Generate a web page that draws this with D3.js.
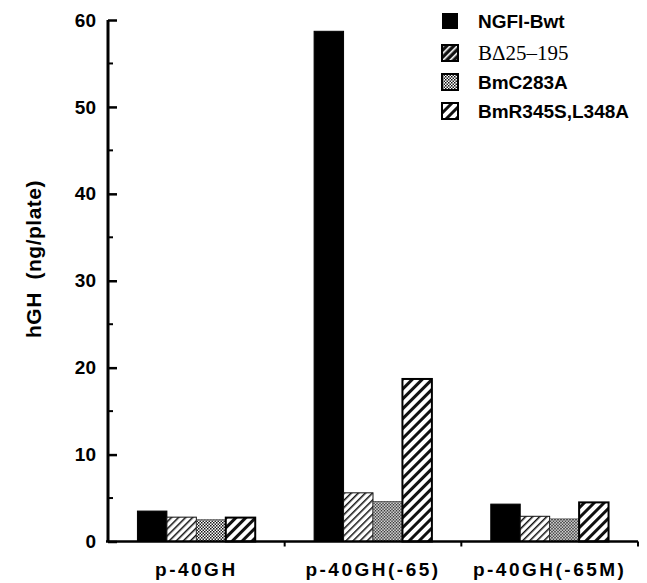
<!DOCTYPE html>
<html>
<head>
<meta charset="utf-8">
<script src="https://cdn.jsdelivr.net/npm/d3@7"></script>
<style>
  body { margin: 0; background: #fff; }
  text { font-family: "Liberation Sans", Arial, Helvetica, sans-serif; }
</style>
</head>
<body>
<div id="chart"></div>
<script>
// data
var categories = ["p-40GH", "p-40GH(-65)", "p-40GH(-65M)"]
var seriesNames = ["NGFI-Bwt", "B\u039425\u2013195", "BmC283A", "BmR345S,L348A"]
var wtValues = [3.5, 58.7, 4.3]
var delValues = [2.8, 5.6, 2.9]
var c283Values = [2.5, 4.6, 2.6]
var r345Values = [2.75, 18.7, 4.5]
var yTicks = [0, 10, 20, 30, 40, 50, 60]
var yMinorTicks = [5, 15, 25, 35, 45, 55]

var seriesValues = [wtValues, delValues, c283Values, r345Values]
var data = categories.map(function (c, i) {
    var row = { cat: c }
    seriesNames.forEach(function (s, j) { row[s] = seriesValues[j][i] })
    return row
})

var width = 647, height = 583
var svg = d3.select("#chart").append("svg")
    .attr("width", width)
    .attr("height", height)

// fill patterns
var defs = svg.append("defs")
function stripes(id, size, lineW, bg, fg) {
    var p = defs.append("pattern").attr("id", id)
        .attr("patternUnits", "userSpaceOnUse").attr("width", size).attr("height", size)
        .attr("patternTransform", "rotate(45)")
    p.append("rect").attr("width", size).attr("height", size).attr("fill", bg)
    p.append("rect").attr("width", lineW).attr("height", size).attr("fill", fg)
}
stripes("hatchFine", 5, 1.5, "#fff", "#111")
stripes("hatchFineInv", 5, 1.6, "#111", "#fff")
stripes("hatchBold", 7, 3, "#fff", "#111")

var p2 = defs.append("pattern").attr("id", "dots")
    .attr("patternUnits", "userSpaceOnUse").attr("width", 3).attr("height", 3)
p2.append("rect").attr("width", 3).attr("height", 3).attr("fill", "#fff")
p2.append("rect").attr("width", 1.5).attr("height", 1.5).attr("fill", "#111")
p2.append("rect").attr("x", 1.5).attr("y", 1.5).attr("width", 1.5).attr("height", 1.5).attr("fill", "#222")

var fills = ["#000", "url(#hatchFine)", "url(#dots)", "url(#hatchBold)"]
var legendFills = ["#000", "url(#hatchFineInv)", "url(#dots)", "url(#hatchBold)"]
var strokes = ["#000", "#111", "#222", "#000"]
var strokeW = [1, 1, 0.6, 2]

// scales
var x0 = d3.scaleBand()
    .domain(categories)
    .range([108, 638])
    .padding(0)
var x1 = d3.scaleBand()
    .domain(seriesNames)
    .range([0, x0.bandwidth()])
    .paddingInner(0)
    .paddingOuter(1)
var y = d3.scaleLinear()
    .domain([0, 60])
    .range([541.5, 20])
var color = d3.scaleOrdinal().domain(seriesNames).range(fills)

// bars
svg.append("g")
    .selectAll("g")
    .data(data)
    .enter().append("g")
    .attr("transform", function (d) { return "translate(" + x0(d.cat) + ",0)" })
    .selectAll("rect")
    .data(function (d) { return seriesNames.map(function (k) { return { key: k, value: d[k] } }) })
    .enter().append("rect")
    .attr("x", function (d) { return x1(d.key) })
    .attr("y", function (d) { return y(d.value) })
    .attr("width", x1.bandwidth())
    .attr("height", function (d) { return y(0) - y(d.value) })
    .attr("fill", function (d) { return color(d.key) })
    .attr("stroke", function (d) { return strokes[seriesNames.indexOf(d.key)] })
    .attr("stroke-width", function (d) { return strokeW[seriesNames.indexOf(d.key)] })

// y axis
var yAxis = svg.append("g")
    .attr("transform", "translate(108,0)")
    .call(d3.axisRight(y).tickValues(yTicks).tickSize(9).tickFormat(d3.format("d")))
yAxis.select(".domain").attr("stroke-width", 3).attr("d", "M0," + y(0) + "V" + y(60))
yAxis.selectAll(".tick line").attr("stroke-width", 2.5)
yAxis.selectAll(".tick text")
    .attr("x", -12)
    .attr("text-anchor", "end")
    .attr("font-size", 19)
    .attr("font-weight", "bold")
    .attr("fill", "#000")
svg.append("g")
    .attr("transform", "translate(108,0)")
    .selectAll("line")
    .data(yMinorTicks)
    .enter().append("line")
    .attr("x1", 0).attr("x2", 5)
    .attr("y1", function (d) { return y(d) }).attr("y2", function (d) { return y(d) })
    .attr("stroke", "#000").attr("stroke-width", 2)

// x axis
var xAxis = svg.append("g")
    .attr("transform", "translate(0," + y(0) + ")")
    .call(d3.axisBottom(x0).tickSize(0).tickPadding(21))
xAxis.select(".domain").attr("stroke-width", 2.5).attr("d", "M106,0H638")
xAxis.selectAll(".tick text")
    .attr("font-size", 19)
    .attr("font-weight", "bold")
    .attr("letter-spacing", "2.5px")
    .attr("fill", "#000")
xAxis.selectAll(".sep")
    .data(categories)
    .enter().append("line")
    .attr("x1", function (d) { return x0(d) + x0.bandwidth() })
    .attr("x2", function (d) { return x0(d) + x0.bandwidth() })
    .attr("y1", 0).attr("y2", 5)
    .attr("stroke", "#000").attr("stroke-width", 2)

// y title
svg.append("text")
    .attr("transform", "translate(41,259) rotate(-90)")
    .attr("text-anchor", "middle")
    .attr("font-size", 21)
    .attr("font-weight", "bold")
    .attr("letter-spacing", "0.5px")
    .attr("xml:space", "preserve")
    .text("hGH  (ng/plate)")

// legend
var legendY = [21, 53, 82, 111]
var legend = svg.append("g")
    .selectAll("g")
    .data(seriesNames)
    .enter().append("g")
    .attr("transform", function (d, i) { return "translate(442," + legendY[i] + ")" })
legend.append("rect")
    .attr("x", 0).attr("y", -8)
    .attr("width", 16).attr("height", 16)
    .attr("fill", function (d, i) { return legendFills[i] })
    .attr("stroke", "#000")
    .attr("stroke-width", function (d, i) { return i == 0 ? 0 : 2 })
legend.append("text")
    .attr("x", 36)
    .attr("y", 0)
    .attr("dy", "0.35em")
    .attr("font-size", function (d, i) { return i == 1 ? 21 : 19 })
    .attr("font-weight", function (d, i) { return i == 1 ? "normal" : "bold" })
    .style("font-family", function (d, i) { return i == 1 ? "'Liberation Serif', 'Times New Roman', serif" : null })
    .text(function (d) { return d })
</script>
</body>
</html>
